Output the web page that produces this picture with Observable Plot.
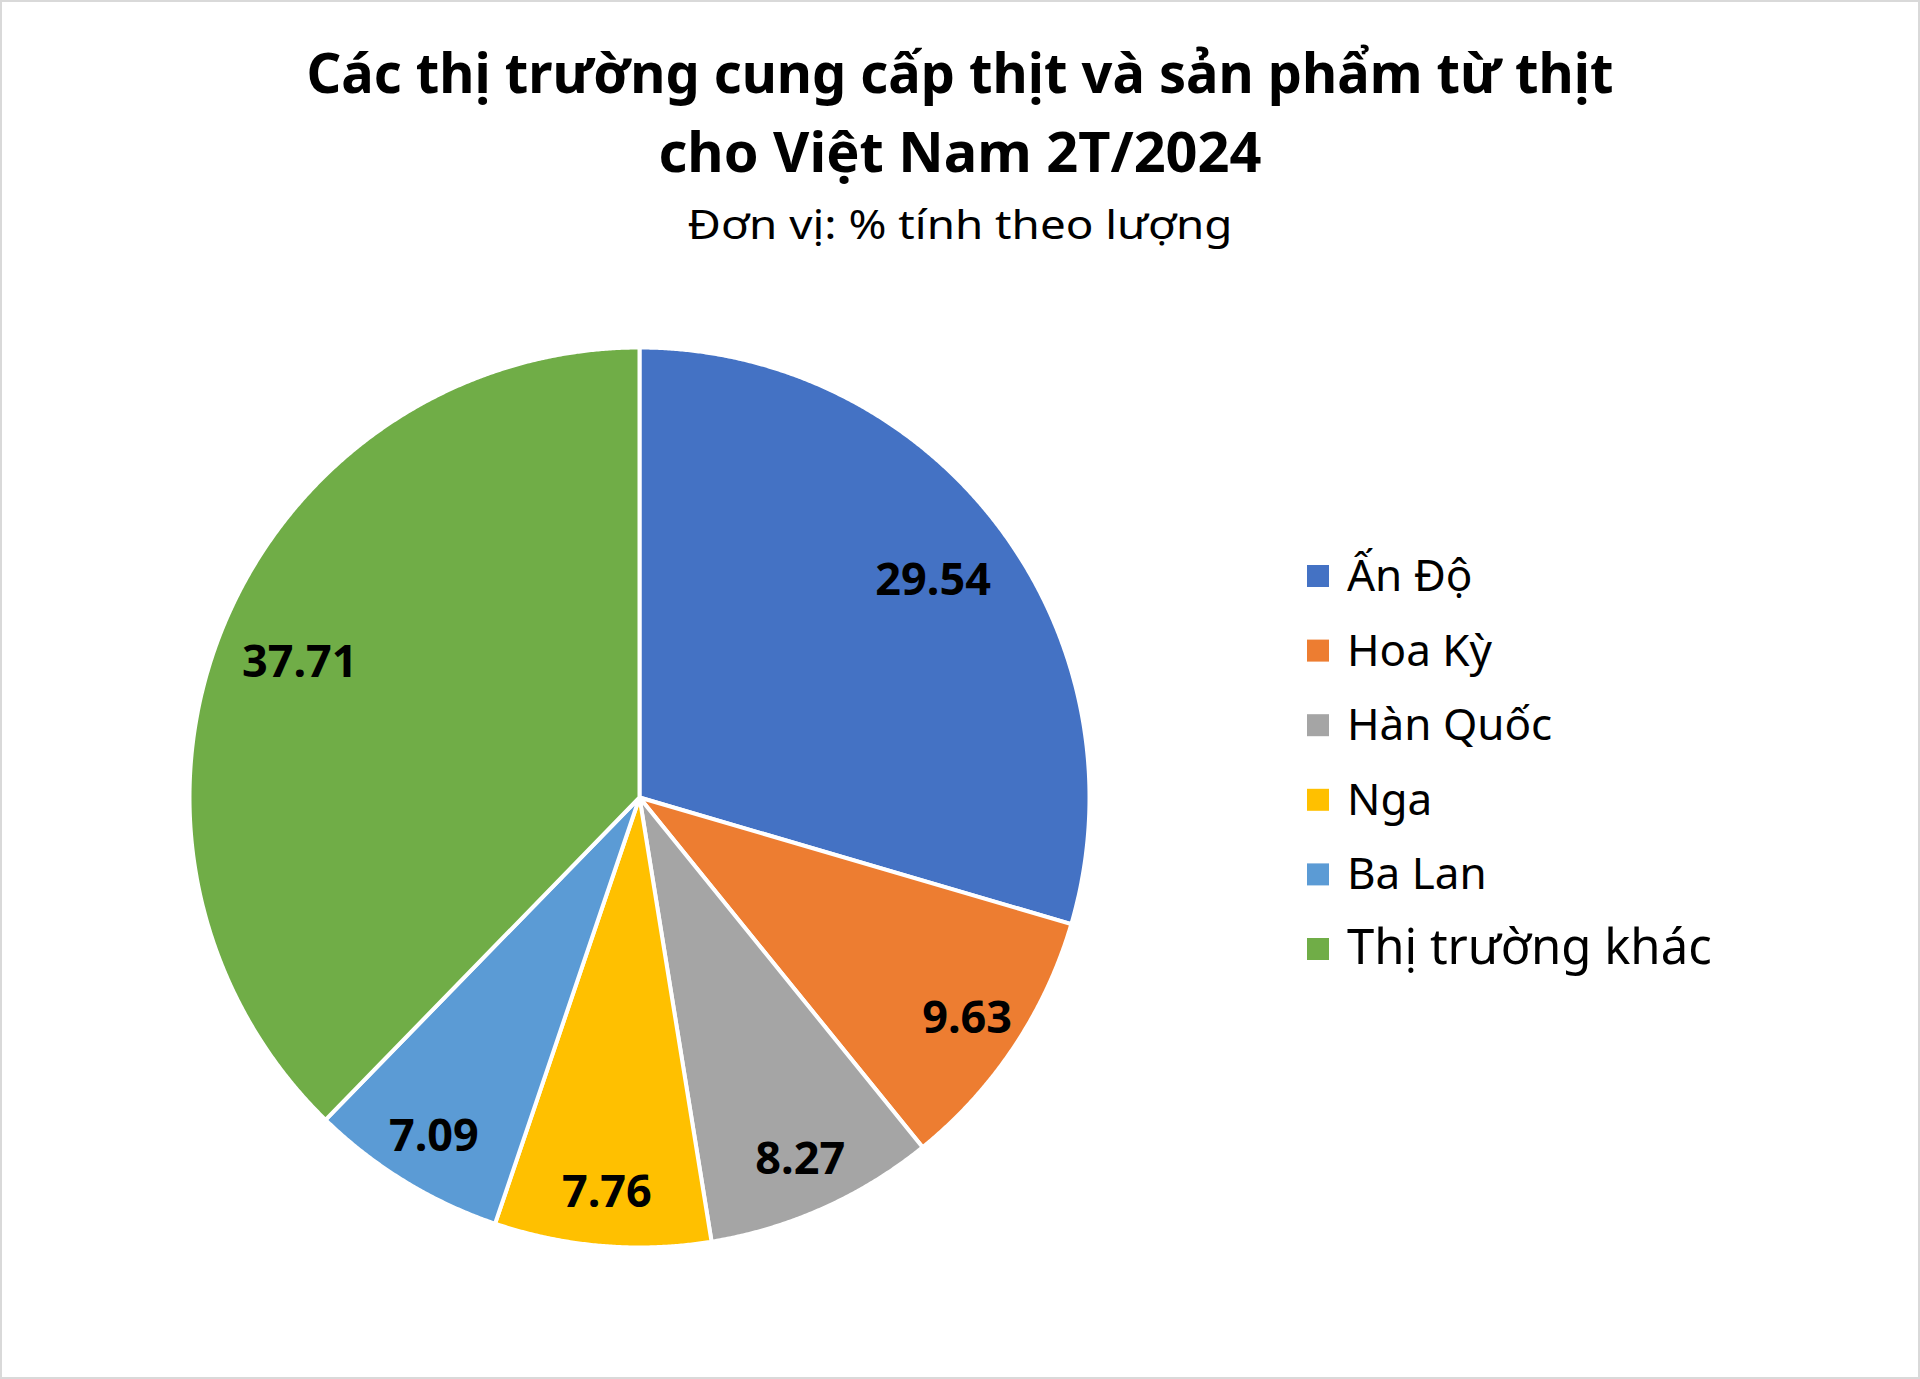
<!DOCTYPE html>
<html><head><meta charset="utf-8">
<script src="https://cdn.jsdelivr.net/npm/d3@7"></script>
<script src="https://cdn.jsdelivr.net/npm/@observablehq/plot@0.6"></script>
<style>
html,body{margin:0;padding:0;background:#fff;}
#frame{position:relative;width:1920px;height:1379px;box-sizing:border-box;border:2px solid #d9d9d9;background:#fff;overflow:hidden;font-family:"Noto Sans",sans-serif;}
#chart{position:absolute;left:-2px;top:298px;}
#overlay{position:absolute;left:-2px;top:-2px;}
</style></head><body>
<div id="frame"><div id="chart"></div><svg id="overlay" width="1920" height="1379"></svg></div>
<script>
// ---- data ----
const markets = ["Ấn Độ", "Hoa Kỳ", "Hàn Quốc", "Nga", "Ba Lan", "Thị trường khác"];
const shares = [29.54, 9.63, 8.27, 7.76, 7.09, 37.71];
const colors = ["#4472C4", "#ED7D31", "#A5A5A5", "#FFC000", "#5B9BD5", "#70AD47"];
const titleLines = ["Các thị trường cung cấp thịt và sản phẩm từ thịt", "cho Việt Nam 2T/2024"];
const subtitle = "Đơn vị: % tính theo lượng";

const FONT = "'Noto Sans', 'Open Sans', sans-serif";
const rows = markets.map((m, i) => ({name: m, share: shares[i]}));

// ---- pie geometry (unit circle) ----
const arcs = d3.pie().sort(null).value(d => d.share)(rows);
const pts = [];
arcs.forEach(s => {
  const n = Math.max(2, Math.ceil((s.endAngle - s.startAngle) / 0.004));
  pts.push({name: s.data.name, x: 0, y: 0});
  for (let i = 0; i <= n; i++) {
    const a = s.startAngle + (s.endAngle - s.startAngle) * i / n;
    pts.push({name: s.data.name, x: Math.sin(a), y: Math.cos(a)});
  }
  pts.push({name: s.data.name, x: 0, y: 0});
});
// label placement: big slices a little further in, narrow slices nearer the rim
const labels = arcs.map(s => {
  const a = (s.startAngle + s.endAngle) / 2;
  const lr = s.data.share > 20 ? 0.815 : 0.875;
  return {x: lr * Math.sin(a), y: lr * Math.cos(a), text: d3.format(".2f")(s.data.share)};
});

const cx = 639, cy = 497, R = 450;
const plot = Plot.plot({
  width: 1280, height: 1000, margin: 0,
  x: {domain: [-1, 1], range: [cx - R, cx + R], axis: null},
  y: {domain: [-1, 1], range: [cy + R, cy - R], axis: null},
  color: {domain: markets, range: colors},
  style: {fontFamily: FONT, background: "transparent", overflow: "visible"},
  marks: [
    Plot.line(pts, {x: "x", y: "y", z: "name", fill: "name", stroke: "white", strokeWidth: 4, strokeLinejoin: "round"}),
    Plot.text(labels, {x: "x", y: "y", text: "text", fontSize: 45, fontWeight: "bold", fill: "black", dy: 3})
  ]
});
document.getElementById("chart").appendChild(plot);

// ---- title & legend ----
const ov = d3.select("#overlay").style("font-family", FONT);
ov.append("text").attr("x", 960).attr("y", 93).attr("text-anchor", "middle")
  .attr("font-size", 56).attr("font-weight", "bold").attr("fill", "#000")
  .attr("textLength", 1307).attr("lengthAdjust", "spacingAndGlyphs").text(titleLines[0]);
ov.append("text").attr("x", 960).attr("y", 172).attr("text-anchor", "middle")
  .attr("font-size", 56).attr("font-weight", "bold").attr("fill", "#000")
  .attr("textLength", 603).attr("lengthAdjust", "spacingAndGlyphs").text(titleLines[1]);
ov.append("text").attr("x", 960).attr("y", 239).attr("text-anchor", "middle")
  .attr("font-size", 40).attr("fill", "#000")
  .attr("textLength", 545).attr("lengthAdjust", "spacingAndGlyphs").text(subtitle);

const lg = ov.append("g");
markets.forEach((m, i) => {
  const c = 576 + i * 74.6;
  lg.append("rect").attr("x", 1307).attr("y", c - 11).attr("width", 22).attr("height", 22).attr("fill", colors[i]);
  lg.append("text").attr("x", 1347).attr("y", c + 15)
    .attr("font-size", i === markets.length - 1 ? 49 : 44).attr("fill", "#000").text(m);
});
</script>
</body></html>
